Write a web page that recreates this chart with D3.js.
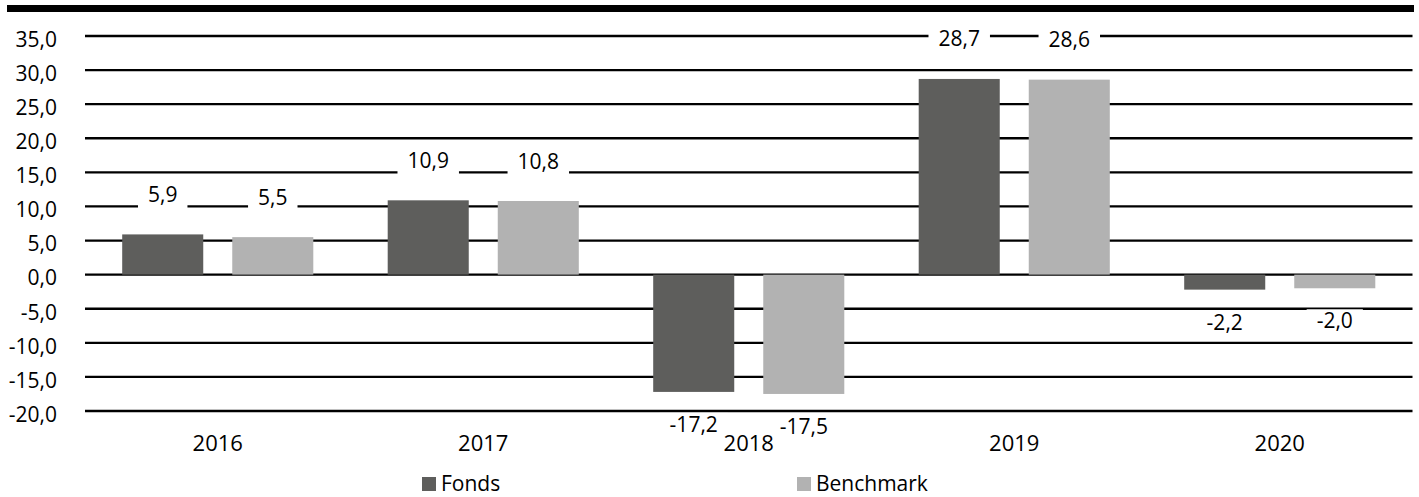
<!DOCTYPE html>
<html>
<head>
<meta charset="utf-8">
<script src="https://cdn.jsdelivr.net/npm/d3@7"></script>
<style>
  html, body { margin: 0; padding: 0; background: #fff; }
  svg { display: block; font-family: "Open Sans", "Noto Sans", sans-serif; }
</style>
</head>
<body>
<svg id="chart" width="1419" height="497"></svg>
<script>
// Data -------------------------------------------------------------
const years     = ["2016", "2017", "2018", "2019", "2020"];
const seriesKeys = ["Fonds", "Benchmark"];
const fonds     = [5.9, 10.9, -17.2, 28.7, -2.2];
const benchmark = [5.5, 10.8, -17.5, 28.6, -2.0];
const yTicks    = [-20, -15, -10, -5, 0, 5, 10, 15, 20, 25, 30, 35];

const colors = { Fonds: "#5e5e5c", Benchmark: "#b2b2b2" };

// Layout -----------------------------------------------------------
const plotLeft = 85, plotRight = 1412.5;
const fontSize = 21;

const svg = d3.select("#chart");

// number format with comma decimal and hyphen minus
const loc = d3.formatLocale({ decimal: ",", thousands: ".", grouping: [3], currency: ["", "€"], minus: "-" });
const fmt = loc.format(".1f");

// Scales -----------------------------------------------------------
const y = d3.scaleLinear().domain([-20, 35]).range([411, 36]);

const x0 = d3.scaleBand().domain(years).range([plotLeft, plotRight]).padding(0);
const x1 = d3.scaleBand().domain(seriesKeys).range([0, x0.bandwidth()])
  .paddingInner(0.2636).paddingOuter(0.338);

// Top rule ---------------------------------------------------------
svg.append("rect")
  .attr("x", 7).attr("y", 5)
  .attr("width", 1414 - 7).attr("height", 7)
  .attr("fill", "#000");

// Gridlines --------------------------------------------------------
svg.append("g").selectAll("line")
  .data(yTicks)
  .join("line")
    .attr("x1", plotLeft).attr("x2", plotRight)
    .attr("y1", d => y(d)).attr("y2", d => y(d))
    .attr("stroke", "#000")
    .attr("stroke-width", 2.3);

// Y labels
svg.append("g").selectAll("text")
  .data(yTicks)
  .join("text")
    .attr("x", 57)
    .attr("y", d => y(d) + 3.5)
    .attr("dy", "0.35em")
    .attr("text-anchor", "end")
    .attr("font-size", fontSize)
    .attr("fill", "#000")
    .text(d => fmt(d));

// Bars -------------------------------------------------------------
const rows = years.map((yr, i) => ({ year: yr, Fonds: fonds[i], Benchmark: benchmark[i] }));
const barData = rows.flatMap(r => seriesKeys.map(k => ({ year: r.year, key: k, value: r[k] })));

svg.append("g").selectAll("rect")
  .data(barData)
  .join("rect")
    .attr("x", d => x0(d.year) + x1(d.key))
    .attr("width", x1.bandwidth())
    .attr("y", d => y(Math.max(0, d.value)))
    .attr("height", d => Math.abs(y(d.value) - y(0)))
    .attr("fill", d => colors[d.key]);

// Value labels (white box breaks the gridline) ---------------------
const lbl = svg.append("g").selectAll("g")
  .data(barData)
  .join("g")
    .attr("transform", d => {
      const cx = x0(d.year) + x1(d.key) + x1.bandwidth() / 2;
      const cy = d.value >= 0 ? y(d.value) - 40 : y(d.value) + 32.5;
      return `translate(${cx},${cy})`;
    });

lbl.append("rect").attr("fill", "#fff");
lbl.append("text")
  .attr("text-anchor", "middle")
  .attr("y", 7.5)
  .attr("font-size", fontSize)
  .attr("fill", "#000")
  .text(d => fmt(d.value));

lbl.each(function() {
  const g = d3.select(this);
  const w = g.select("text").node().getComputedTextLength();
  g.select("rect")
    .attr("x", -w / 2 - 10).attr("width", w + 20)
    .attr("y", -11.5).attr("height", 25.5);
});

// X labels ---------------------------------------------------------
svg.append("g").selectAll("text")
  .data(years)
  .join("text")
    .attr("x", d => x0(d) + x0.bandwidth() / 2)
    .attr("y", 451)
    .attr("text-anchor", "middle")
    .attr("font-size", fontSize + 1)
    .attr("fill", "#000")
    .text(d => d);

// Legend -----------------------------------------------------------
const legendX = { Fonds: 422, Benchmark: 797 };
const legend = svg.append("g").selectAll("g")
  .data(seriesKeys)
  .join("g")
    .attr("transform", d => `translate(${legendX[d]},477)`);

legend.append("rect")
  .attr("width", 14).attr("height", 14)
  .attr("fill", d => colors[d]);

legend.append("text")
  .attr("x", 19).attr("y", 14)
  .attr("font-size", fontSize)
  .attr("fill", "#000")
  .text(d => d);
</script>
</body>
</html>
